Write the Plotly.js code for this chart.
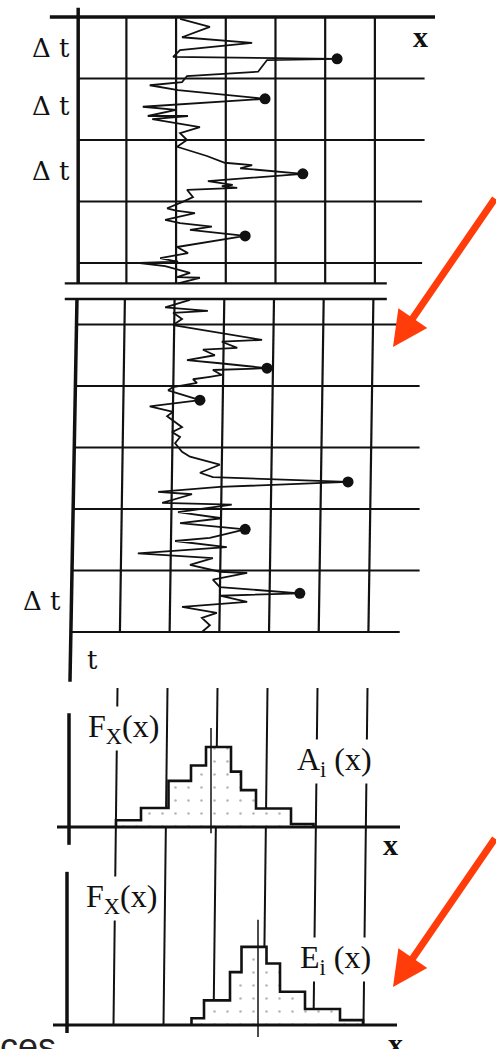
<!DOCTYPE html>
<html>
<head>
<meta charset="utf-8">
<script src="https://cdn.plot.ly/plotly-3.0.1.min.js"></script>
<style>
  html, body { margin: 0; padding: 0; background: #fff; }
  #chart { width: 496px; height: 1049px; }
</style>
</head>
<body>
<div id="chart"></div>
<script>
// Sample path x(t), upper strip (t in units of Δt, x in grid units)
const upperX = [2.08, 2.68, 2.12, 3.53, 2.08, 1.94, 5.24, 3.83, 3.65, 2.22,
                2.12, 1.47, 2.04, 3.79, 1.33, 2.00, 1.43, 2.24, 1.52, 2.48,
                2.08, 2.22, 2.02, 2.48, 2.62, 2.98, 3.53, 3.29, 4.55, 2.64,
                3.14, 2.92, 3.23, 2.22, 2.34, 2.12, 1.82, 2.00, 2.38, 1.78,
                2.08, 2.72, 2.28, 3.39, 2.02, 2.24, 1.68, 2.04, 1.27, 1.78,
                2.28, 2.02, 2.48, 2.04];
const upperT = [0.03, 0.16, 0.33, 0.42, 0.54, 0.65, 0.68, 0.70, 0.89, 0.96,
                1.06, 1.11, 1.19, 1.33, 1.46, 1.51, 1.61, 1.61, 1.66, 1.79,
                1.89, 2.00, 2.11, 2.23, 2.26, 2.37, 2.41, 2.46, 2.55, 2.67,
                2.73, 2.75, 2.78, 2.81, 2.93, 3.01, 3.11, 3.15, 3.19, 3.30,
                3.35, 3.41, 3.46, 3.56, 3.74, 3.84, 3.92, 3.98, 4.00, 4.05,
                4.16, 4.23, 4.24, 4.33];
// Sample path x(t), lower strip
const lowerX = [2.28, 1.78, 2.64, 1.94, 2.12, 1.94, 3.73, 2.92, 3.23, 2.54,
                2.78, 2.22, 2.88, 3.83, 2.74, 2.92, 2.68, 2.34, 2.42, 1.94,
                1.84, 2.48, 1.47, 1.94, 1.82, 1.92, 2.12, 1.92, 2.08, 1.98,
                2.12, 2.28, 2.88, 2.48, 2.74, 5.46, 2.88, 1.64, 2.32, 1.72,
                3.12, 2.04, 2.92, 2.08, 3.39, 2.68, 1.98, 3.02, 1.23, 2.74,
                2.28, 2.88, 3.43, 2.74, 2.88, 4.49, 2.88, 3.43, 2.12, 2.82,
                2.52, 2.68, 2.52];
const lowerT = [4.60, 4.72, 4.78, 4.81, 4.91, 5.01, 5.25, 5.28, 5.38, 5.41,
                5.50, 5.58, 5.63, 5.71, 5.74, 5.82, 5.85, 5.89, 5.95, 6.02,
                6.07, 6.23, 6.33, 6.42, 6.49, 6.55, 6.67, 6.75, 6.83, 6.93,
                7.07, 7.15, 7.28, 7.41, 7.48, 7.56, 7.64, 7.72, 7.76, 7.90,
                7.93, 8.05, 8.15, 8.23, 8.33, 8.47, 8.52, 8.62, 8.72, 8.80,
                8.91, 9.02, 9.04, 9.15, 9.27, 9.37, 9.41, 9.51, 9.59, 9.69,
                9.77, 9.89, 10.00];
// Path vertices that are the maximum of each Δt interval
const upperPeakIdx = [6, 13, 28, 43];
const lowerPeakIdx = [13, 21, 35, 44, 55];

// Grid of the strips
const gridX = [1, 2, 3, 4, 5, 6];
const upperRows = [1, 2, 3, 4];
const lowerRows = [5, 6, 7, 8, 9, 10];

// Histograms: bin edges (grid units) and heights
const aEdges  = [1.00, 1.50, 2.05, 2.50, 2.80, 3.30, 3.50, 3.80, 4.50, 4.95];
const aCounts = [1.1, 3.1, 7.5, 10, 13, 9, 6, 3, 0.5];
const aMean = 2.9;
const eEdges  = [2.51, 2.76, 3.28, 3.51, 4.01, 4.28, 4.78, 5.48, 5.94];
const eCounts = [1.1, 4, 8.6, 12.7, 10, 5.4, 2.6, 0.8];
const eMean = 3.84;

const INK = '#111';
const SERIF = 'Liberation Serif, Times New Roman, serif';

function stepOutline(edges, counts) {
  const xs = [edges[0]], ys = [0];
  counts.forEach((c, i) => { xs.push(edges[i]); ys.push(c); });
  xs.push(edges[edges.length - 1]); ys.push(0);
  return { xs, ys };
}

const shapes = [];
function seg(xref, yref, x0, y0, x1, y1, w, layer) {
  shapes.push({ type: 'line', xref, yref, x0, y0, x1, y1,
                layer: layer || 'above', line: { color: INK, width: w } });
}

// upper strip frame
seg('x', 'y', -0.54, 0, 7.21, 0, 3.5);
seg('x', 'y', 0.03, -0.15, 0.03, 4.33, 3.5);
gridX.forEach(g => seg('x', 'y', g, 0, g, 4.33, 2.2));
upperRows.forEach(r => seg('x', 'y', 0.03, r, r < 3 ? 7.0 : 6.95, r, 2));
seg('x', 'y', -0.24, 4.33, 6.24, 4.33, 2.2);

// lower strip frame (drawn slightly slanted)
const tTop = 4.585, tAxisEnd = 10.81;
const axisAt = t => 0.006 - 0.141 * (t - tTop) / (tAxisEnd - tTop);
seg('x', 'y', -0.24, tTop, 6.24, tTop, 2.5);
seg('x', 'y', axisAt(tTop), tTop, axisAt(tAxisEnd), tAxisEnd, 3.5);
gridX.forEach(g => seg('x', 'y', g - 0.03, tTop, g - 0.13, 10, 2.2));
lowerRows.forEach(r => seg('x', 'y', axisAt(r), r, (r === 5 || r === 10) ? 6.5 : 6.9, r, 2));

// histogram grid lines running through both histograms
const histTop = 1 - 688 / 1049, histBottom = 1 - 1025 / 1049;
gridX.forEach(g => seg('x2', 'paper', g + 0.03, histTop, g - 0.05, histBottom, 2, 'below'));

// histogram axes
seg('x2', 'y2', 0.06, 18.5, 0.06, -2.9, 3.5);
seg('x2', 'y2', -0.18, 0, 6.68, 0, 2.8);
seg('x2', 'y2', aMean, 16.1, aMean, -1.0, 1.5);
seg('x2', 'y3', 0.02, 24.9, 0.02, -1.3, 3.5);
seg('x2', 'y3', -0.26, 0, 6.62, 0, 2.8);
seg('x2', 'y3', eMean, 17.1, eMean, -1.95, 1.5);

const aStep = stepOutline(aEdges, aCounts);
const eStep = stepOutline(eEdges, eCounts);
const stipple = { shape: '.', size: 13, solidity: 0.03, fgcolor: '#b5b5b5', bgcolor: '#ffffff' };

const traces = [
  { x: upperX, y: upperT, xaxis: 'x', yaxis: 'y', mode: 'lines',
    line: { color: INK, width: 1.8 }, hoverinfo: 'skip' },
  { x: lowerX, y: lowerT, xaxis: 'x', yaxis: 'y', mode: 'lines',
    line: { color: INK, width: 1.8 }, hoverinfo: 'skip' },
  { x: upperPeakIdx.map(i => upperX[i]).concat(lowerPeakIdx.map(i => lowerX[i])),
    y: upperPeakIdx.map(i => upperT[i]).concat(lowerPeakIdx.map(i => lowerT[i])),
    xaxis: 'x', yaxis: 'y', mode: 'markers',
    marker: { color: INK, size: 11 }, hoverinfo: 'skip' },
  { x: aStep.xs, y: aStep.ys, xaxis: 'x2', yaxis: 'y2', mode: 'lines',
    line: { color: INK, width: 2.6, shape: 'hv' },
    fill: 'tozeroy', fillcolor: '#ffffff', fillpattern: stipple, hoverinfo: 'skip' },
  { x: eStep.xs, y: eStep.ys, xaxis: 'x2', yaxis: 'y3', mode: 'lines',
    line: { color: INK, width: 2.6, shape: 'hv' },
    fill: 'tozeroy', fillcolor: '#ffffff', fillpattern: stipple, hoverinfo: 'skip' }
];

function label(xref, yref, x, y, text, size, extra) {
  return Object.assign({ xref, yref, x, y, text, showarrow: false,
    font: { family: SERIF, size, color: INK }, xanchor: 'center', yanchor: 'middle' }, extra || {});
}
const DT = { family: 'DejaVu Serif, serif', size: 26, color: INK };
const annotations = [
  label('x', 'y', 6.91, 0.31, '<b>x</b>', 30),
  label('x', 'y', -0.52, 0.50, 'Δ t', 26, { font: DT }),
  label('x', 'y', -0.52, 1.45, 'Δ t', 26, { font: DT }),
  label('x', 'y', -0.52, 2.50, 'Δ t', 26, { font: DT }),
  label('x', 'y', -0.70, 9.50, 'Δ t', 26, { font: DT }),
  label('x', 'y', 0.31, 10.46, 't', 26, { font: DT }),

  label('x2', 'y2', 1.14, 16.1, 'F<sub>X</sub>(x)', 32, { bgcolor: '#fff' }),
  label('x2', 'y2', 5.36, 10.6, 'A<sub>i</sub> (x)', 32, { bgcolor: '#fff' }),
  label('x2', 'y2', 6.48, -2.9, '<b>x</b>', 30),
  label('x2', 'y3', 1.10, 20.5, 'F<sub>X</sub>(x)', 32, { bgcolor: '#fff' }),
  label('x2', 'y3', 5.38, 10.7, 'E<sub>i</sub> (x)', 32, { bgcolor: '#fff' }),
  label('x2', 'y3', 6.58, -2.95, '<b>x</b>', 30),

  { xref: 'paper', yref: 'paper', x: -0.004, y: 1 - 1046 / 1049, text: 'ces',
    showarrow: false, xanchor: 'left', yanchor: 'middle',
    font: { family: 'Liberation Sans, Arial, sans-serif', size: 36, color: '#222' } },

  // pointer arrows
  { xref: 'paper', yref: 'paper', x: 393 / 496, y: 1 - 347 / 1049, text: '',
    showarrow: true, arrowhead: 2, arrowsize: 1, arrowwidth: 7, arrowcolor: '#ff3c0a',
    ax: 150, ay: -150, standoff: 0 },
  { xref: 'paper', yref: 'paper', x: 393 / 496, y: 1 - 987 / 1049, text: '',
    showarrow: true, arrowhead: 2, arrowsize: 1, arrowwidth: 7, arrowcolor: '#ff3c0a',
    ax: 150, ay: -150, standoff: 0 }
];

const hidden = { visible: false, fixedrange: true };
const layout = {
  width: 496, height: 1049,
  margin: { l: 0, r: 0, t: 0, b: 0, pad: 0 },
  paper_bgcolor: '#ffffff', plot_bgcolor: 'rgba(0,0,0,0)',
  showlegend: false,
  xaxis:  Object.assign({ domain: [0, 1], range: [-1.543, 8.437] }, hidden),
  yaxis:  Object.assign({ domain: [1 - 703 / 1049, 1], range: [11.154, -0.276], anchor: 'x' }, hidden),
  xaxis2: Object.assign({ domain: [0, 1], range: [-1.32, 8.6], anchor: 'y3' }, hidden),
  yaxis2: Object.assign({ domain: [1 - 850 / 1049, 1 - 690 / 1049], range: [-3.74, 22.28], anchor: 'x2' }, hidden),
  yaxis3: Object.assign({ domain: [0, 1 - 862 / 1049], range: [-3.90, 26.5], anchor: 'x2' }, hidden),
  shapes, annotations
};

Plotly.newPlot('chart', traces, layout, { staticPlot: true, displayModeBar: false });
</script>
</body>
</html>
